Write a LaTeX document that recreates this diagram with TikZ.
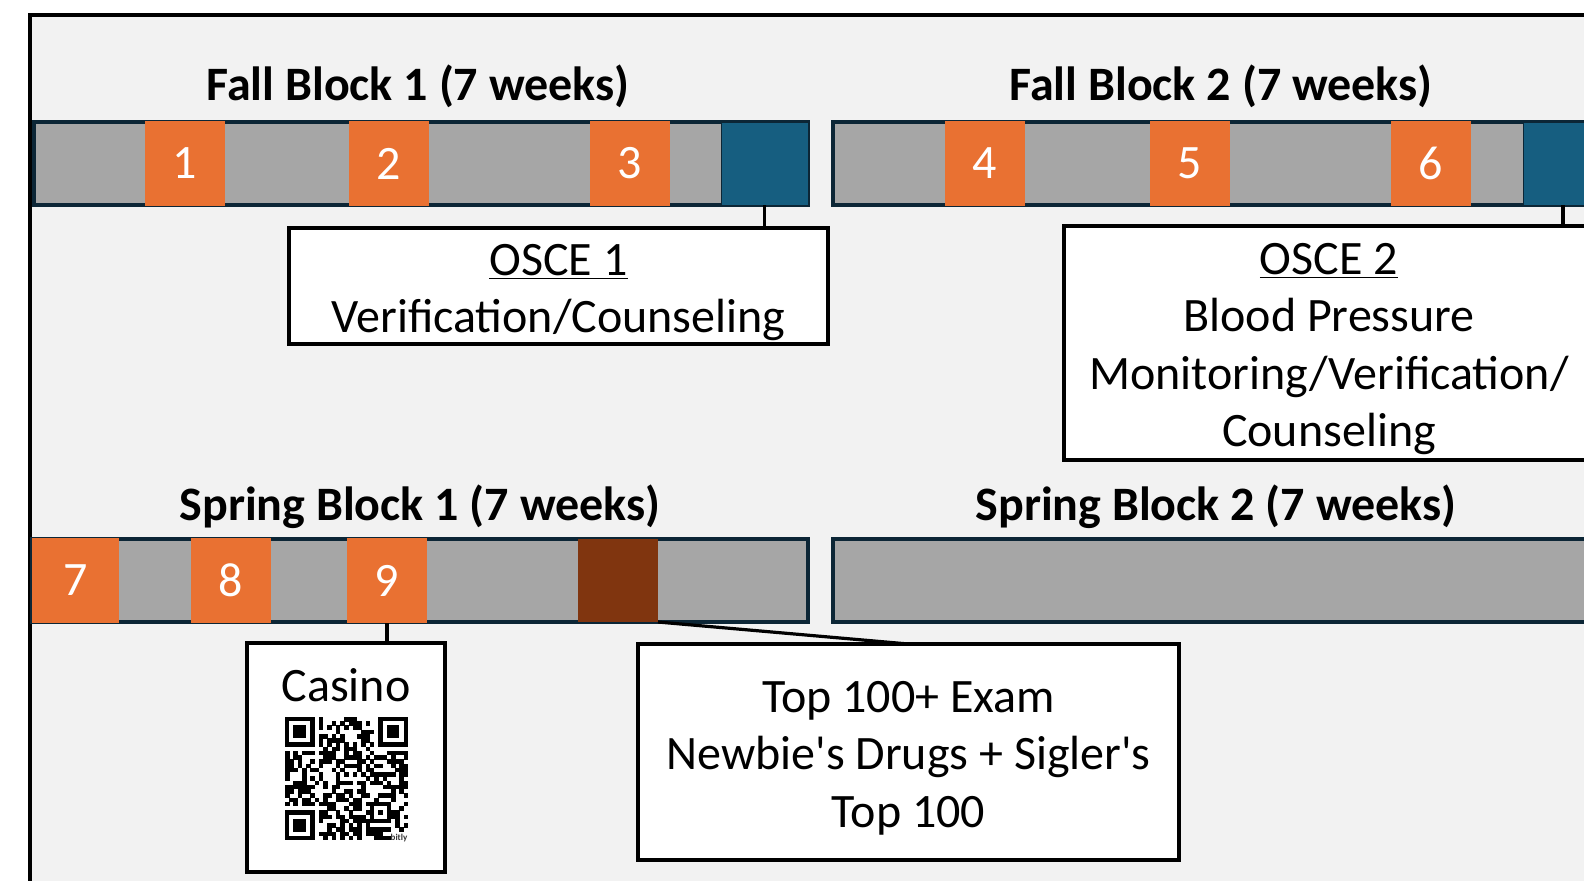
\documentclass[tikz,border=0pt]{standalone}
\usepackage{fontspec}
\setmainfont{Carlito}
\definecolor{cbg}{HTML}{F2F2F2}
\definecolor{cgray}{HTML}{A6A6A6}
\definecolor{cnavy}{HTML}{0C2636}
\definecolor{corange}{HTML}{E97132}
\definecolor{cblue}{HTML}{165E80}
\definecolor{cbrown}{HTML}{80350F}
\begin{document}
\begin{tikzpicture}[x=0.5pt,y=-0.5pt,
  bar/.style={draw=cnavy, line width=1.6pt, fill=cgray, inner sep=0pt, outer sep=0pt, anchor=north west},
  wk/.style={fill=corange, text=white, inner sep=0pt, outer sep=0pt, anchor=north west, minimum width=40pt, minimum height=42.5pt, font=\fontsize{24}{24}\selectfont},
  markbox/.style={draw=cnavy, line width=0.4pt, inner sep=0pt, outer sep=0pt, anchor=north west, minimum width=44.5pt, minimum height=41.5pt},
  title/.style={anchor=base, font=\fontsize{24}{24}\selectfont\bfseries},
  box/.style={draw=black, line width=1.6pt, fill=white, inner sep=0pt, outer sep=0pt, anchor=north west},
  boxtext/.style={inner sep=0pt, align=center, font=\fontsize{24}{28.8}\selectfont},
  conn/.style={draw=black, line width=1.6pt}]
\useasboundingbox (0,0) rectangle (1584,880);
\fill[white] (0,0) rectangle (1584,880);
\draw[line width=2pt, fill=cbg] (30,15) rectangle (1620,910);

% ---- Fall Block 1
\node[title] (t1) at (418,100) {Fall Block 1 (7 weeks)};
\node[bar, minimum width=387pt, minimum height=41.5pt] (bar1) at (34,122) {};
\node[wk] (w1) at (145,121) {1};
\node[wk] (w2) at (349,121) {2};
\node[wk] (w3) at (590,121) {3};
\node[markbox, fill=cblue, minimum width=43.5pt] (m1) at (721,122) {};
\node[box, minimum width=269.5pt, minimum height=58pt] (osce1) at (289,228) {};
\node[boxtext] (osce1txt) at ([yshift=-3.2pt]osce1.center) {\underline{OSCE 1}\\Verification/Counseling};
\draw[conn] (m1.south) -- (m1.south |- osce1.north);

% ---- Fall Block 2
\node[title] (t2) at (1221,100) {Fall Block 2 (7 weeks)};
\node[bar, minimum width=383.5pt, minimum height=41.5pt] (bar2) at (833,122) {};
\node[wk] (w4) at (945,121) {4};
\node[wk] (w5) at (1150,121) {5};
\node[wk] (w6) at (1391,121) {6};
\node[markbox, fill=cblue, minimum width=40pt] (m2) at (1523,122) {};
\node[box, minimum width=265pt, minimum height=117pt] (osce2) at (1064,226) {};
\node[boxtext] (osce2txt) at ([yshift=-3pt]osce2.center) {\underline{OSCE 2}\\Blood Pressure\\Monitoring/Verification/\\Counseling};
\draw[conn] (m2.south) -- (m2.south |- osce2.north);

% ---- Spring Block 1
\node[title] (t3) at (420,520) {Spring Block 1 (7 weeks)};
\node[bar, minimum width=388pt, minimum height=41.5pt] (bar3) at (32,539) {};
\node[wk, minimum width=43.5pt] (w7) at (32,538) {7};
\node[wk] (w8) at (191,538) {8};
\node[wk] (w9) at (347,538) {9};
\node[markbox, fill=cbrown, draw=none, minimum width=40pt] (m3) at (578,539) {};
\node[box, minimum width=99pt, minimum height=114.5pt] (casino) at (247,643) {};
\node[boxtext] (casinolbl) at (346,685) {Casino};
\draw[conn] (w9.south) -- (w9.south |- casino.north);
\node[box, minimum width=270.5pt, minimum height=108pt] (top) at (638,644) {};
\node[boxtext] (toptxt) at ([yshift=-3pt]top.center) {Top 100+ Exam\\Newbie\textquotesingle s Drugs + Sigler\textquotesingle s\\Top 100};
\draw[conn] (m3.south east) -- (top.north);

% ---- Spring Block 2
\node[title] (t4) at (1216,520) {Spring Block 2 (7 weeks)};
\node[bar, minimum width=383.5pt, minimum height=41.5pt] (bar4) at (833,539) {};

% ---- QR code
\begin{scope}[shift={(285,717)}]
  \def\qm{4.24}
  \foreach \ox/\oy in {0/0,22/0,0/22}{
    \fill[black] (\ox*\qm,\oy*\qm) rectangle ++(7*\qm,7*\qm);
    \fill[white] (\ox*\qm+\qm,\oy*\qm+\qm) rectangle ++(5*\qm,5*\qm);
    \fill[black] (\ox*\qm+2*\qm,\oy*\qm+2*\qm) rectangle ++(3*\qm,3*\qm);
  }
  \fill[black] (20*\qm,20*\qm) rectangle ++(5*\qm,5*\qm);
  \fill[white] (21*\qm,21*\qm) rectangle ++(3*\qm,3*\qm);
  \fill[black] (22*\qm,22*\qm) rectangle ++(1*\qm,1*\qm);
  \pgfmathsetseed{4242}
  \foreach \i in {0,...,28}{
    \foreach \j in {0,...,28}{
      \pgfmathtruncatemacro\qskip{((\i<8)&&(\j<8)) || ((\i>20)&&(\j<8)) || ((\i<8)&&(\j>20)) || ((\i>19)&&(\i<25)&&(\j>19)&&(\j<25)) || ((\i>24)&&(\j>26))}
      \pgfmathtruncatemacro\qdark{rnd<0.5}
      \ifnum\i=6 \pgfmathtruncatemacro\qdark{1-mod(\j,2)}\fi
      \ifnum\j=6 \pgfmathtruncatemacro\qdark{1-mod(\i,2)}\fi
      \ifnum\qskip=0 \ifnum\qdark=1
        \fill[black] (\i*\qm,\j*\qm) rectangle ++(\qm+0.3,\qm+0.3);
      \fi\fi
    }
  }
\end{scope}
\node[font=\fontsize{4.5}{5}\selectfont\bfseries, text=black!80, inner sep=0pt] (bitly) at (399,838) {bitly};
\end{tikzpicture}
\end{document}
